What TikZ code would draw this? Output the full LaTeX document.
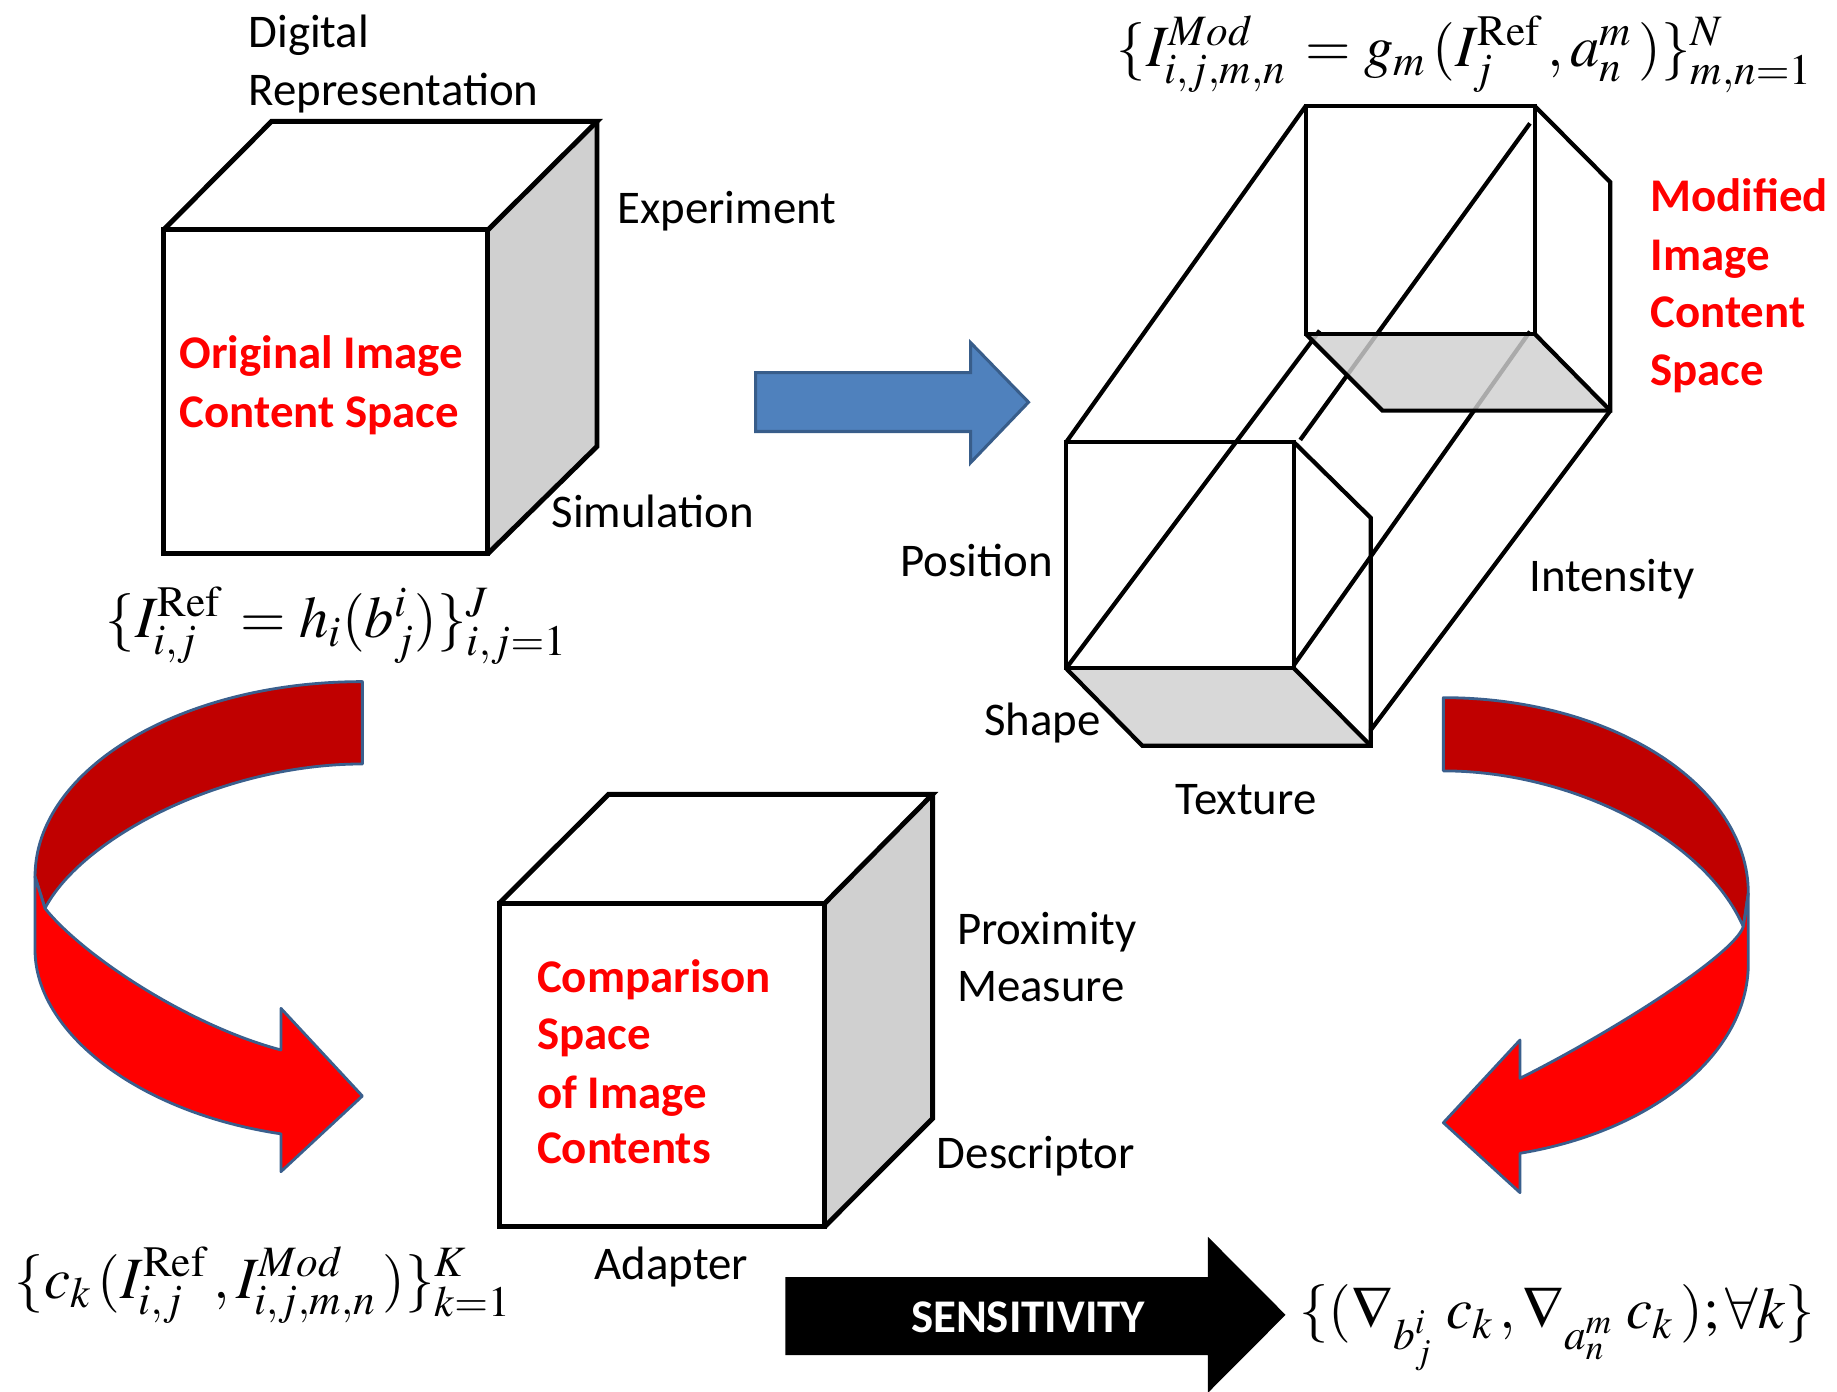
\documentclass[tikz,border=0pt]{standalone}
\usepackage{mathptmx}
\usepackage[no-math]{fontspec}
\setmainfont{Carlito}
\definecolor{facegray}{HTML}{D0D0D0}
\definecolor{darkred}{HTML}{C00000}
\definecolor{brightred}{HTML}{FF0000}
\definecolor{ribbonedge}{HTML}{3A5F8D}
\definecolor{bluefill}{HTML}{4F81BD}
\definecolor{blueedge}{HTML}{385D8A}
\newcommand{\lowsub}[1]{\raisebox{-5pt}{$\scriptstyle #1$}}
\tikzset{
  lbl/.style={anchor=base west, inner sep=0pt, font=\fontsize{20}{24}\selectfont},
  redlbl/.style={anchor=base west, inner sep=0pt, font=\fontsize{20}{24}\selectfont\bfseries, text=brightred},
  mathf/.style={anchor=base west, inner sep=0pt, font=\fontsize{25}{29}\selectfont},
  cubeedge/.style={line width=2.1pt, line join=miter},
  prismedge/.style={line width=1.8pt, line join=miter},
  grayface/.style={fill=facegray},
  ribbon/.style={draw=ribbonedge, line width=1.2pt, line join=round},
}
\begin{document}
\begin{tikzpicture}[x=0.5pt,y=-0.5pt]
\useasboundingbox (0,0) rectangle (1568,1188);

% ---------- Cube 1: Original Image Content Space ----------
\fill[grayface] (416.5,196.2) -- (509.6,103.6) -- (509.6,381) -- (416.5,472.5) -- cycle;
\draw[cubeedge] (139.6,196.2) rectangle (416.5,472.5);
\draw[cubeedge] (139.6,196.2) -- (231.8,103.6) -- (509.6,103.6) -- (416.5,196.2);
\draw[cubeedge] (509.6,103.6) -- (509.6,381) -- (416.5,472.5);

\node[lbl] (digital) at (211.7,40.6) {Digital};
\node[lbl] (repr) at (211.7,90.1) {Representation};
\node[lbl] (exper) at (526.7,191) {Experiment};
\node[lbl] (simul) at (470.4,450.2) {Simulation};
\node[redlbl] (orig1) at (152.9,314.9) {Original Image};
\node[redlbl] (orig2) at (152.9,364.5) {Content Space};
\node[mathf] (f1) at (90,544) {$\{I^{\mathrm{Ref}}_{i,j}\,=h_{i}(b^{i}_{j})\}^{J}_{i,j=1}$};

% ---------- Blue arrow ----------
\draw[fill=bluefill, draw=blueedge, line width=1.3pt]
  (645,318) -- (828.4,318) -- (828.4,292.4) -- (877.9,343.3) -- (828.4,395) -- (828.4,368.3) -- (645,368.3) -- cycle;

% ---------- Prism: Modified Image Content Space ----------
\coordinate (LFtl) at (910,377.5);
\coordinate (LFtr) at (1104.5,377.5);
\coordinate (LFbl) at (910,570.5);
\coordinate (LFbr) at (1104.5,570.5);
\coordinate (LRtr) at (1170,442);
\coordinate (LRbr) at (1170,636.5);
\coordinate (LBbl) at (975,636.5);
\coordinate (UFtl) at (1114.5,90.5);
\coordinate (UFtr) at (1310,90.5);
\coordinate (UFbl) at (1114.5,285);
\coordinate (UFbr) at (1310,285);
\coordinate (URtr) at (1374.5,155.5);
\coordinate (URbr) at (1374.5,350.5);
\coordinate (UBbl) at (1180,350.5);
\coordinate (Bend) at (1126.4,282.2);
\coordinate (Cbeg) at (1109.8,375.5);
\coordinate (Cend) at (1305.9,105.3);
\coordinate (Dbeg) at (1104.2,568);
\coordinate (Dend) at (1305.9,283);
\coordinate (Ebeg) at (1169.7,623.5);

\draw[prismedge] (LFtl) -- (UFtl);
\draw[prismedge] (LFbl) -- (Bend);
\draw[prismedge] (Cbeg) -- (Cend);
\draw[prismedge] (Dbeg) -- (Dend);
\draw[prismedge] (Ebeg) -- (URbr);

\fill[facegray, fill opacity=0.82] (LFbl) -- (LFbr) -- (LRbr) -- (LBbl) -- cycle;
\fill[facegray, fill opacity=0.82] (UFbl) -- (UFbr) -- (URbr) -- (UBbl) -- cycle;

\draw[prismedge] (LFtl) rectangle (LFbr);
\draw[prismedge] (LFtr) -- (LRtr) -- (LRbr) -- (LBbl) -- (LFbl);
\draw[prismedge] (LFbr) -- (LRbr);
\draw[prismedge] (UFtl) rectangle (UFbr);
\draw[prismedge] (UFtr) -- (URtr) -- (URbr) -- (UBbl) -- (UFbl);
\draw[prismedge] (UFbr) -- (URbr);

\node[mathf] (f2) at (952.9,57) {$\{I^{Mod}_{i,j,m,n}\,=g_{m}\,(I^{\mathrm{Ref}}_{j}\,,a^{m}_{n}\,)\}^{N}_{m,n=1}$};
\node[redlbl] (mod1) at (1408.4,180.7) {Modified};
\node[redlbl] (mod2) at (1408.4,230.8) {Image};
\node[redlbl] (mod3) at (1408.4,279.8) {Content};
\node[redlbl] (mod4) at (1408.4,329) {Space};
\node[lbl] (pos) at (768,492) {Position};
\node[lbl] (inten) at (1304.9,505.3) {Intensity};
\node[lbl] (shape) at (839.6,628) {Shape};
\node[lbl] (text) at (1003,695.5) {Texture};

% ---------- Left curved arrow ----------
\filldraw[ribbon, fill=darkred]
  (309.3,581.8) .. controls (155.0,581.8) and (29.9,656.3) .. (29.9,748.3)
  -- (38.4,775.3)
  .. controls (70,715) and (190,652.1) .. (309.3,652.1) -- cycle;
\filldraw[ribbon, fill=brightred]
  (29.9,748.3) -- (29.9,810.9)
  .. controls (29.9,880) and (116.3,949.4) .. (239.8,967.8)
  -- (239.8,1000.1) -- (309.3,935.5) -- (239.8,860.7) -- (239.8,896.2)
  .. controls (160,875) and (70,815) .. (38.4,775.3) -- cycle;

% ---------- Right curved arrow ----------
\filldraw[ribbon, fill=darkred]
  (1232,595.5) .. controls (1375.8,595.5) and (1492.3,670.3) .. (1492.3,762.5)
  -- (1488,791)
  .. controls (1455,715) and (1340,658) .. (1232,658) -- cycle;
\filldraw[ribbon, fill=brightred]
  (1492.3,762.5) -- (1492.3,822.2)
  .. controls (1492.3,898.5) and (1412.1,965.2) .. (1297.4,984.4)
  -- (1297.4,1018) -- (1232,958.3) -- (1297.4,887.7) -- (1297.4,920.4)
  .. controls (1376,881) and (1480,815) .. (1488,791) -- cycle;

% ---------- Cube 3: Comparison Space ----------
\fill[grayface] (704.1,770.9) -- (796,678) -- (796,954.7) -- (704.1,1046.8) -- cycle;
\draw[cubeedge] (426.3,770.9) rectangle (704.1,1046.8);
\draw[cubeedge] (426.3,770.9) -- (519.4,678) -- (796,678) -- (704.1,770.9);
\draw[cubeedge] (796,678) -- (796,954.7) -- (704.1,1046.8);

\node[redlbl] (cmp1) at (458.1,847.5) {Comparison};
\node[redlbl] (cmp2) at (458.1,896) {Space};
\node[redlbl] (cmp3) at (458.1,946.5) {of Image};
\node[redlbl] (cmp4) at (458.1,993) {Contents};
\node[lbl] (prox) at (816.5,806) {Proximity};
\node[lbl] (meas) at (816.5,854.5) {Measure};
\node[lbl] (desc) at (799.3,997) {Descriptor};
\node[lbl] (adap) at (507.1,1092) {Adapter};
\node[mathf] (f3) at (12.3,1108) {$\{c_{k}\,(I^{\mathrm{Ref}}_{i,j}\,,I^{Mod}_{i,j,m,n}\,)\}^{K}_{k=1}$};

% ---------- Sensitivity arrow ----------
\fill[black] (670.4,1090) -- (1031,1090) -- (1031,1055.7) -- (1097.3,1122.3) -- (1031,1188.9) -- (1031,1156.7) -- (670.4,1156.7) -- cycle;
\node[inner sep=0pt, font=\fontsize{20}{24}\selectfont\bfseries, text=white] (sens) at (877.5,1124) {SENSITIVITY};
\node[mathf] (f4) at (1108.7,1134) {$\{(\nabla_{\lowsub{b^{i}_{j}}}\;c_{k}\,,\nabla_{\lowsub{a^{m}_{n}}}\;c_{k}\,);\forall k\}$};
\end{tikzpicture}
\end{document}
